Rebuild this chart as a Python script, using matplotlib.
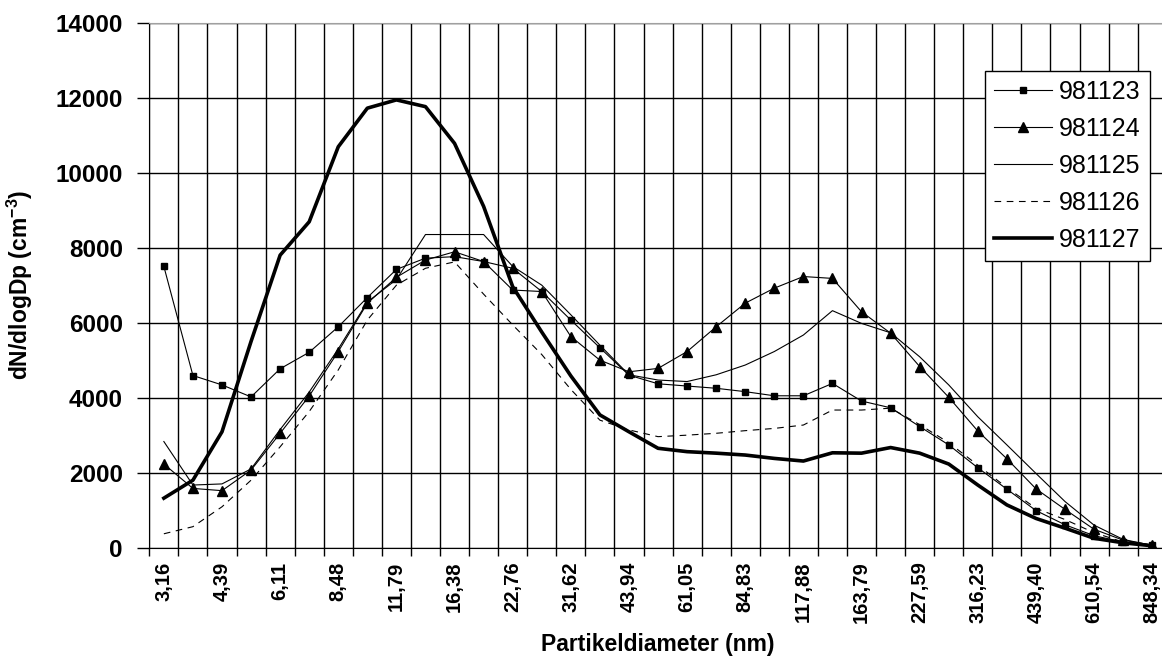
import numpy as np
import matplotlib
matplotlib.use('Agg')
import matplotlib.pyplot as plt

# labels under every second size class (nm), Excel style with decimal comma
tick_labels = ['3,16', '4,39', '6,11', '8,48', '11,79', '16,38', '22,76', '31,62', '43,94',
               '61,05', '84,83', '117,88', '163,79', '227,59', '316,23', '439,40', '610,54', '848,34']

# dN/dlogDp per size class, one list per measuring day
d981123 = [7500, 4590, 4340, 4020, 4770, 5210, 5890, 6670, 7420, 7720, 7760, 7630, 6870, 6830, 6070,
           5330, 4600, 4370, 4310, 4250, 4160, 4050, 4050, 4380, 3910, 3730, 3230, 2740, 2130, 1560,
           990, 610, 320, 150, 60]
d981124 = [2230, 1580, 1520, 2070, 3050, 4045, 5230, 6520, 7210, 7670, 7890, 7630, 7450, 6830, 5630,
           5000, 4690, 4780, 5230, 5890, 6520, 6920, 7230, 7180, 6290, 5720, 4830, 4010, 3110, 2370,
           1570, 1020, 490, 200, 70]
d981125 = [2830, 1670, 1700, 2100, 3150, 4150, 5300, 6550, 7150, 8350, 8350, 8350, 7500, 7000, 6210,
           5400, 4610, 4470, 4430, 4610, 4870, 5230, 5670, 6320, 5980, 5730, 5090, 4340, 3490, 2740,
           1980, 1230, 600, 220, 60]
d981126 = [370, 560, 1090, 1800, 2690, 3630, 4740, 6070, 7000, 7450, 7620, 6760, 5940, 5150, 4220,
           3400, 3140, 2960, 3000, 3050, 3120, 3180, 3270, 3670, 3670, 3720, 3280, 2800, 2200, 1600,
           1050, 750, 400, 150, 50]
d981127 = [1320, 1800, 3090, 5500, 7800, 8690, 10690, 11720, 11940, 11760, 10780, 9100, 6960, 5750, 4580,
           3540, 3090, 2650, 2560, 2520, 2470, 2380, 2310, 2530, 2520, 2670, 2520, 2230, 1670, 1140,
           780, 520, 250, 130, 50]

plt.rcParams['font.family'] = ['Liberation Sans', 'DejaVu Sans']
plt.rcParams['font.weight'] = 'bold'
plt.rcParams['mathtext.fontset'] = 'custom'
plt.rcParams['mathtext.rm'] = 'Liberation Sans:bold'
plt.rcParams['mathtext.default'] = 'rm'

fig = plt.figure(figsize=(11.62, 6.64), dpi=100)
# plot area runs a little past the right border, like the cropped original
ax = fig.add_axes([0.1285, 0.1752, 0.8756, 0.7907])

x = np.arange(len(d981123))
ax.plot(x, d981123, color='black', lw=0.8, marker='s', ms=4, label='981123', zorder=3)
ax.plot(x, d981124, color='black', lw=0.8, marker='^', ms=7, label='981124', zorder=3)
ax.plot(x, d981125, color='black', lw=0.8, label='981125', zorder=3)
ax.plot(x, d981126, color='black', lw=0.8, ls=(0, (6, 5)), label='981126', zorder=3)
ax.plot(x, d981127, color='black', lw=2.6, label='981127', zorder=3)

ax.set_xlim(-0.5, len(x) - 0.5)
ax.set_ylim(0, 14000)
ax.set_yticks(np.arange(0, 14001, 2000))

# gridlines and tick marks sit between the categories, labels on every second one
ax.set_xticks(np.arange(-0.5, len(x), 1))
ax.set_xticklabels([])
ax.set_xticks(np.arange(0, len(x), 2), minor=True)
ax.set_xticklabels(tick_labels, minor=True, rotation=90, fontsize=14.5, fontweight='bold')
ax.tick_params(axis='x', which='major', direction='out', length=6, width=1)
ax.tick_params(axis='x', which='minor', length=0, pad=10)
ax.tick_params(axis='y', direction='out', length=9, width=1, pad=10, labelsize=17.5)

ax.grid(True, which='major', color='black', lw=1)
ax.set_axisbelow(True)

ax.spines['top'].set_color('#a0a0a0')
ax.spines['right'].set_visible(False)

ax.set_xlabel('Partikeldiameter (nm)', fontsize=16.5, fontweight='bold')
ax.xaxis.set_label_coords(0.5, -0.162)
ax.set_ylabel(r'dN/dlogDp (cm$^{-3}$)', fontsize=16.5, fontweight='bold')
ax.yaxis.set_label_coords(-0.112, 0.5)

leg = ax.legend(loc='upper right', bbox_to_anchor=(0.9835, 0.908), borderaxespad=0,
                prop={'size': 18, 'weight': 'normal'}, fancybox=False, framealpha=1,
                edgecolor='black', handlelength=2.3, handletextpad=0.3, labelspacing=0.52,
                borderpad=0.36)
leg.get_frame().set_linewidth(1)

fig.savefig('out.png', dpi=100)
